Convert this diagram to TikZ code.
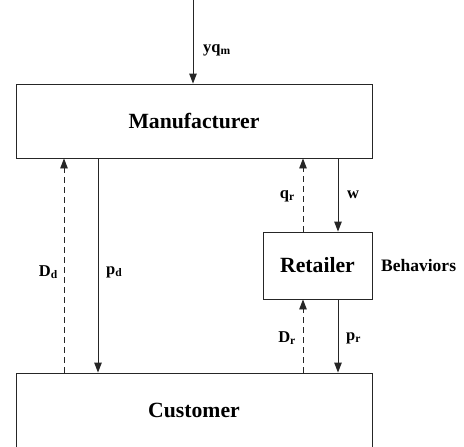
\documentclass[tikz,border=0pt]{standalone}
\usepackage{fontspec}
\setmainfont{Liberation Serif}
\usetikzlibrary{arrows.meta}
\begin{document}
\begin{tikzpicture}[x=1pt,y=-1pt,
  box/.style={draw=black!85,line width=0.9pt,inner sep=0pt,font=\fontsize{21.7}{24}\selectfont\bfseries},
  lbl/.style={font=\fontsize{16.5}{19}\selectfont\bfseries,inner sep=0pt},
  arr/.style={draw=black!85,line width=0.9pt,-{Triangle[length=10pt,width=7.5pt]}},
  darr/.style={arr,dashed,dash pattern=on 6pt off 4pt}]
\useasboundingbox (0,0) rectangle (464,447);
\begin{scope}
\clip (0,0) rectangle (464,447);
\node[box,minimum width=356pt,minimum height=74pt] (man) at (194,121) {Manufacturer};
\node[box,minimum width=109pt,minimum height=67pt] (ret) at (317.5,265.5) {Retailer};
\node[box,minimum width=356pt,minimum height=80pt] (cus) at (194,413) {};
\node[font=\fontsize{21.7}{24}\selectfont\bfseries] (custxt) at (194,410) {Customer};
\coordinate (top) at (193,0);
\draw[arr] (top) -- (top|-man.north);
\node[lbl,anchor=west] (yq) at (203,50) {yq\textsubscript{m}};
% Dd and pd
\coordinate (dd) at (64,0);
\coordinate (pd) at (98,0);
\draw[darr] (dd|-cus.north) -- (dd|-man.south);
\draw[arr] (pd|-man.south) -- (pd|-cus.north);
\node[lbl,anchor=east] (Dd) at (58,272) {D\textsubscript{d}};
\node[lbl,anchor=west] (pdl) at (106,272) {p\textsubscript{d}};
% qr, w
\coordinate (qr) at (303,0);
\coordinate (ww) at (338,0);
\draw[darr] (qr|-ret.north) -- (qr|-man.south);
\draw[arr] (ww|-man.south) -- (ww|-ret.north);
\node[lbl,anchor=east] (qrl) at (295,196) {q\textsubscript{r}};
\node[lbl,anchor=west] (wl) at (347,195) {w};
% Dr, pr
\draw[darr] (qr|-cus.north) -- (qr|-ret.south);
\draw[arr] (ww|-ret.south) -- (ww|-cus.north);
\node[lbl,anchor=east] (Drl) at (296,338) {D\textsubscript{r}};
\node[lbl,anchor=west] (prl) at (346,338) {p\textsubscript{r}};
\node[lbl,anchor=west,font=\fontsize{17.5}{20}\selectfont\bfseries] (beh) at (381,266) {Behaviors};
\end{scope}
\end{tikzpicture}
\end{document}
